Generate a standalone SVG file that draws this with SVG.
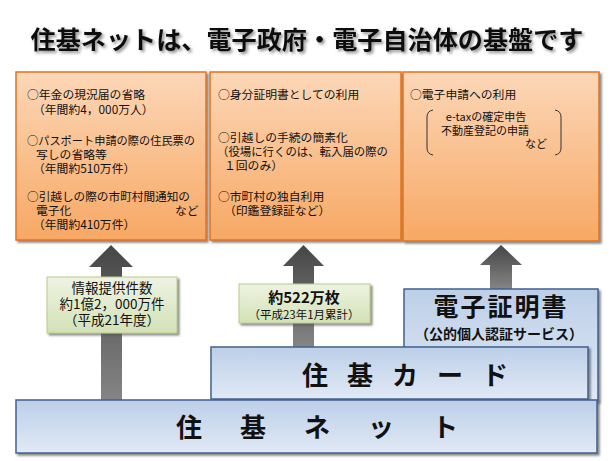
<svg xmlns="http://www.w3.org/2000/svg" width="614" height="461" viewBox="0 0 614 461">
<style>
text{font-family:"Noto Sans CJK JP","Noto Sans",sans-serif;fill:#111}
.obox{fill:url(#og);stroke:#e4731c;stroke-width:1.5;filter:url(#sh)}
.gbox{fill:url(#gg);stroke:#b8cc8a;stroke-width:1;filter:url(#sh)}
.bbox{fill:url(#bg);stroke:#41618f;stroke-width:1.5;filter:url(#sh)}
.arr{fill:url(#ag)}
.t{font-size:11.8px}
.s{font-size:11px}
.g{font-size:13.5px;text-anchor:middle}
.big{font-size:26px;font-weight:bold}
</style>
<defs>
<linearGradient id="og" x1="0" y1="0" x2="0" y2="1"><stop offset="0" stop-color="#fcd7b8"/><stop offset="1" stop-color="#f7a864"/></linearGradient>
<linearGradient id="gg" x1="0" y1="0" x2="0" y2="1"><stop offset="0" stop-color="#eef3e2"/><stop offset="1" stop-color="#d3e1b6"/></linearGradient>
<linearGradient id="bg" x1="0" y1="0" x2="0" y2="1"><stop offset="0" stop-color="#bccfe8"/><stop offset="1" stop-color="#e1e9f5"/></linearGradient>
<linearGradient id="ag" x1="0" y1="0" x2="0" y2="1"><stop offset="0" stop-color="#464646"/><stop offset="1" stop-color="#858585"/></linearGradient>
<filter id="sh" x="-5%" y="-5%" width="115%" height="120%"><feDropShadow dx="2" dy="2" stdDeviation="1.2" flood-color="#555" flood-opacity="0.7"/></filter>
<filter id="tsh" x="-5%" y="-20%" width="110%" height="160%"><feDropShadow dx="2" dy="2" stdDeviation="1.5" flood-color="#444" flood-opacity="0.6"/></filter>
</defs>

<rect width="614" height="461" fill="#fff"/>

<g id="title">
<text x="307" y="49" font-size="25" font-weight="bold" text-anchor="middle" textLength="553" lengthAdjust="spacingAndGlyphs" filter="url(#tsh)">住基ネットは、電子政府・電子自治体の基盤です</text>
</g>

<g id="box-juki-net-uses">
<rect class="obox" x="16" y="72" width="190" height="168"/>
<text class="t" x="27" y="99">○年金の現況届の省略</text>
<text class="t" x="33" y="114">（年間約4，000万人）</text>
<text class="t" x="27" y="145" textLength="168" lengthAdjust="spacingAndGlyphs">○パスポート申請の際の住民票の</text>
<text class="t" x="36" y="159">写しの省略等</text>
<text class="t" x="33" y="173">（年間約510万件）</text>
<text class="t" x="27" y="201" textLength="163" lengthAdjust="spacingAndGlyphs">○引越しの際の市町村間通知の</text>
<text class="t" x="36" y="215">電子化</text>
<text class="t" x="175" y="215">など</text>
<text class="t" x="33" y="229">（年間約410万件）</text>
</g>

<g id="box-card-uses">
<rect class="obox" x="210" y="72" width="191" height="168"/>
<text class="t" x="218" y="99">○身分証明書としての利用</text>
<text class="t" x="218" y="142">○引越しの手続の簡素化</text>
<text class="t" x="217" y="156" textLength="171" lengthAdjust="spacingAndGlyphs">（役場に行くのは、転入届の際の</text>
<text class="t" x="224" y="170">１回のみ）</text>
<text class="t" x="218" y="200.5">○市町村の独自利用</text>
<text class="t" x="224" y="214.5">（印鑑登録証など）</text>
</g>

<g id="box-cert-uses">
<rect class="obox" x="403" y="72" width="196" height="169"/>
<text class="t" x="410" y="99">○電子申請への利用</text>
<path d="M433 110 Q427 111 427 117 L427 148 Q427 154 433 155 M555 110 Q561 111 561 117 L561 148 Q561 154 555 155" fill="none" stroke="#333" stroke-width="1"/>
<text class="s" x="486" y="121" text-anchor="middle">e-taxの確定申告</text>
<text class="s" x="485" y="134.5" text-anchor="middle">不動産登記の申請</text>
<text class="s" x="547" y="148" text-anchor="end">など</text>
</g>

<g id="connectors">
<polygon class="arr" points="111,245 133,267 122,267 122,400 101,400 101,267 89,267"/>
<polygon class="arr" points="303.5,245 324,266 314,266 314,347 293,347 293,266 283,266"/>
<polygon class="arr" points="501,245 522,265 512,265 512,289 490,289 490,265 480,265"/>
</g>

<g id="label-info">
<rect class="gbox" x="47" y="277" width="130" height="56"/>
<text class="g" x="112" y="293">情報提供件数</text>
<text class="g" x="112" y="309">約1億2，000万件</text>
<text class="g" x="112" y="325">（平成21年度）</text>
</g>

<g id="label-cards">
<rect class="gbox" x="239" y="284" width="131" height="39"/>
<text x="304" y="303" font-size="15" font-weight="bold" text-anchor="middle">約522万枚</text>
<text x="304" y="318.5" font-size="11.5" text-anchor="middle">（平成23年1月累計）</text>
</g>

<g id="denshi-shomeisho">
<rect class="bbox" x="404" y="289" width="194" height="112"/>
<text x="501" y="316" font-size="25" font-weight="bold" text-anchor="middle" letter-spacing="2">電子証明書</text>
<text x="499" y="339" font-size="14" font-weight="bold" text-anchor="middle">（公的個人認証サービス）</text>
</g>

<g id="juki-card">
<rect class="bbox" x="211" y="347" width="377" height="52"/>
<text class="big" x="302" y="385" letter-spacing="19">住基カード</text>
</g>

<g id="juki-net">
<rect class="bbox" x="16" y="400" width="581" height="53"/>
<text class="big" x="176" y="436.5" letter-spacing="38">住基ネット</text>
</g>
</svg>
